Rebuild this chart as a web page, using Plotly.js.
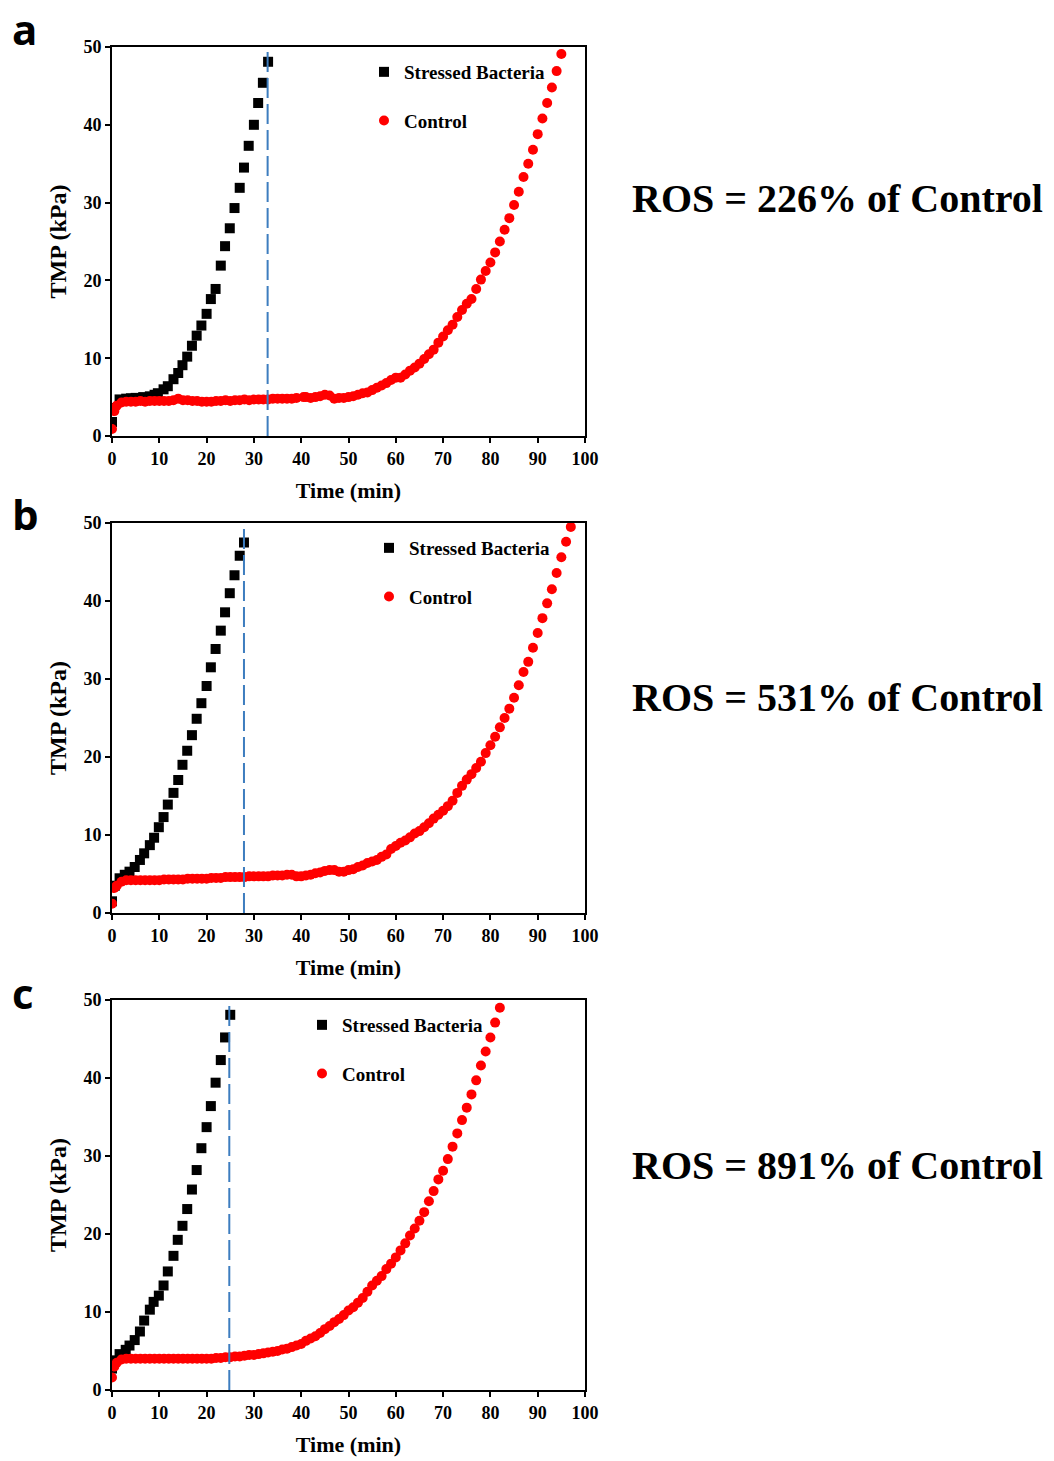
<!DOCTYPE html>
<html>
<head>
<meta charset="utf-8">
<script src="https://cdn.plot.ly/plotly-3.0.1.min.js"></script>
<style>html,body{margin:0;padding:0;background:#fff;}#chart{width:1054px;height:1461px;}</style>
</head>
<body>
<div id="chart"></div>
<script>
// ---------- DATA ----------
const panelLetters = ["a", "b", "c"];
const rosLabels = ["ROS = 226% of Control", "ROS = 531% of Control", "ROS = 891% of Control"];
const seriesNames = ["Stressed Bacteria", "Control"];
const xTicks = [0, 10, 20, 30, 40, 50, 60, 70, 80, 90, 100];
const yTicks = [0, 10, 20, 30, 40, 50];
const dashedLineX = [32.9, 27.9, 24.8];

// Panel a
const aStressedX = [0, 0.4, 1.6, 3, 4, 5, 6.6, 8, 9, 9.7, 10.9, 11.8, 13, 14, 14.9, 15.9, 16.9, 17.9, 18.9, 20, 20.9, 21.9, 23, 23.9, 24.9, 25.9, 27, 27.9, 28.9, 30, 30.9, 31.9, 33];
const aStressedY = [1.8, 3.6, 4.7, 4.8, 4.85, 4.9, 5.0, 5.1, 5.3, 5.5, 6.0, 6.4, 7.3, 8.1, 9.1, 10.2, 11.6, 12.9, 14.2, 15.7, 17.6, 18.9, 21.9, 24.4, 26.7, 29.3, 31.9, 34.5, 37.3, 40.0, 42.8, 45.4, 48.1];
const aControlX = [0, 0.5, 1, 2, 3, 4, 5, 6, 7, 8, 9, 10, 11, 12, 13, 14, 15, 16, 17, 18, 19, 20, 21, 22, 23, 24, 25, 26, 27, 28, 29, 30, 31, 32, 33, 34, 35, 36, 37, 38, 39, 40.5, 41, 42, 43, 44, 45, 46, 47, 48, 49, 50, 51, 52, 53, 54, 55, 56, 57, 58, 59, 60, 61, 62, 63, 64, 65, 66, 67, 68, 69, 70, 71, 72, 73, 74, 75, 76, 77, 78, 79, 80, 81, 82, 83, 84, 85, 86, 87, 88, 89, 90, 91, 92, 93, 94, 95];
const aControlY = [0.9, 3.2, 3.9, 4.3, 4.4, 4.4, 4.4, 4.5, 4.4, 4.5, 4.5, 4.5, 4.5, 4.5, 4.6, 4.8, 4.6, 4.6, 4.5, 4.5, 4.4, 4.4, 4.4, 4.5, 4.5, 4.6, 4.5, 4.6, 4.6, 4.7, 4.6, 4.7, 4.7, 4.7, 4.7, 4.8, 4.8, 4.8, 4.8, 4.8, 4.9, 5.0, 5.0, 4.9, 5.0, 5.1, 5.3, 5.2, 4.8, 4.9, 4.9, 5.0, 5.1, 5.3, 5.5, 5.6, 5.9, 6.2, 6.5, 6.8, 7.2, 7.5, 7.5, 7.9, 8.4, 8.8, 9.3, 9.9, 10.5, 11.1, 12.0, 12.8, 13.6, 14.3, 15.3, 16.2, 17.0, 17.6, 18.9, 20.1, 21.2, 22.3, 23.6, 25.0, 26.5, 28.0, 29.7, 31.4, 33.3, 35.0, 36.8, 38.8, 40.8, 42.8, 44.8, 46.9, 49.1];

// Panel b
const bStressedX = [0, 0.6, 1.6, 2.7, 3.7, 4.8, 5.9, 6.8, 8, 8.9, 9.9, 10.9, 11.8, 13, 14, 14.9, 15.9, 16.9, 17.9, 18.9, 20, 20.9, 21.9, 23, 23.9, 24.9, 25.9, 27, 27.9];
const bStressedY = [1.5, 3.5, 4.45, 4.9, 5.3, 5.9, 6.8, 7.65, 8.7, 9.65, 11.0, 12.3, 13.9, 15.4, 17.05, 19.0, 20.8, 22.8, 24.9, 26.9, 29.1, 31.5, 33.85, 36.2, 38.55, 41.0, 43.3, 45.8, 47.5];
const bControlX = [0, 0.5, 1, 2, 3, 4, 5, 6, 7, 8, 9, 10, 11, 12, 13, 14, 15, 16, 17, 18, 19, 20, 21, 22, 23, 24, 25, 26, 27, 28, 29, 30, 31, 32, 33, 34, 35, 36, 37, 38, 39, 40, 41, 42, 43, 44, 45, 46, 47, 48, 49, 50, 51, 52, 53, 54, 55, 56, 57, 58, 59, 60, 61, 62, 63, 64, 65, 66, 67, 68, 69, 70, 71, 72, 73, 74, 75, 76, 77, 78, 79, 80, 81, 82, 83, 84, 85, 86, 87, 88, 89, 90, 91, 92, 93, 94, 95, 96, 97];
const bControlY = [1.2, 3.2, 3.5, 4.0, 4.2, 4.2, 4.2, 4.2, 4.2, 4.2, 4.2, 4.2, 4.3, 4.3, 4.3, 4.3, 4.3, 4.4, 4.4, 4.4, 4.4, 4.4, 4.5, 4.5, 4.5, 4.6, 4.6, 4.6, 4.6, 4.6, 4.7, 4.7, 4.7, 4.7, 4.7, 4.8, 4.8, 4.8, 4.9, 4.9, 4.7, 4.7, 4.8, 4.9, 5.1, 5.2, 5.4, 5.5, 5.5, 5.3, 5.3, 5.5, 5.6, 5.9, 6.1, 6.4, 6.6, 6.8, 7.2, 7.5, 8.2, 8.6, 9.0, 9.3, 9.7, 10.2, 10.5, 11.0, 11.5, 12.1, 12.6, 13.1, 13.7, 14.4, 15.4, 16.3, 17.1, 17.8, 18.6, 19.4, 20.5, 21.5, 22.6, 23.8, 25.0, 26.2, 27.6, 29.2, 30.9, 32.2, 34.0, 35.9, 37.8, 39.7, 41.5, 43.6, 45.6, 47.6, 49.5];

// Panel c
const cStressedX = [0, 0.4, 1.6, 2.9, 3.7, 4.8, 5.9, 6.8, 8, 8.8, 9.9, 10.9, 11.8, 13, 13.9, 14.9, 15.9, 16.9, 17.9, 18.9, 20, 20.9, 21.9, 23, 23.9, 25];
const cStressedY = [2.75, 3.8, 4.6, 5.15, 5.7, 6.4, 7.5, 8.9, 10.3, 11.3, 12.1, 13.4, 15.2, 17.2, 19.25, 21.05, 23.2, 25.7, 28.2, 31.0, 33.7, 36.4, 39.4, 42.3, 45.2, 48.1];
const cControlX = [0, 0.5, 1, 2, 3, 4, 5, 6, 7, 8, 9, 10, 11, 12, 13, 14, 15, 16, 17, 18, 19, 20, 21, 22, 23, 24, 25, 26, 27, 28, 29, 30, 31, 32, 33, 34, 35, 36, 37, 38, 39, 40, 41, 42, 43, 44, 45, 46, 47, 48, 49, 50, 51, 52, 53, 54, 55, 56, 57, 58, 59, 60, 61, 62, 63, 64, 65, 66, 67, 68, 69, 70, 71, 72, 73, 74, 75, 76, 77, 78, 79, 80, 81, 82];
const cControlY = [1.6, 3.0, 3.5, 3.9, 4.0, 4.0, 4.0, 4.0, 4.0, 4.0, 4.0, 4.0, 4.0, 4.0, 4.0, 4.0, 4.0, 4.0, 4.0, 4.0, 4.0, 4.0, 4.0, 4.1, 4.1, 4.2, 4.2, 4.3, 4.3, 4.4, 4.5, 4.5, 4.6, 4.7, 4.8, 4.9, 5.0, 5.2, 5.3, 5.5, 5.7, 5.9, 6.3, 6.6, 6.9, 7.3, 7.8, 8.2, 8.7, 9.1, 9.6, 10.2, 10.6, 11.2, 11.8, 12.6, 13.4, 14.0, 14.6, 15.5, 16.2, 17.0, 17.9, 18.8, 19.8, 20.7, 21.7, 22.8, 24.2, 25.5, 27.0, 28.1, 29.6, 31.2, 32.9, 34.6, 36.2, 37.9, 39.7, 41.6, 43.4, 45.2, 47.1, 49.0];

// ---------- BUILD ----------
const W = 1054, H = 1461;
const serif = "Liberation Serif, Times New Roman, serif";
const panels = [
  {sx: aStressedX, sy: aStressedY, cx: aControlX, cy: aControlY, top: 47, bot: 436, legX: 364, legY: 53, letterY: 29, rosY: 198},
  {sx: bStressedX, sy: bStressedY, cx: bControlX, cy: bControlY, top: 523, bot: 913, legX: 369, legY: 529, letterY: 514, rosY: 698},
  {sx: cStressedX, sy: cStressedY, cx: cControlX, cy: cControlY, top: 1000, bot: 1390, legX: 302, legY: 1006, letterY: 992, rosY: 1165}
];
const plotLeft = 112, plotRight = 585;

const traces = [];
const layout = {
  width: W, height: H,
  margin: {l: 0, r: 0, t: 0, b: 0},
  paper_bgcolor: "#ffffff", plot_bgcolor: "#ffffff",
  showlegend: true,
  annotations: [], shapes: []
};

panels.forEach((p, i) => {
  const sfx = i === 0 ? "" : String(i + 1);
  const legName = "legend" + sfx;
  traces.push({
    type: "scatter", mode: "markers", name: seriesNames[0],
    x: p.sx, y: p.sy, xaxis: "x" + sfx, yaxis: "y" + sfx,
    legend: legName, legendgroup: "s" + i,
    marker: {symbol: "square", size: 10, color: "#000000"},
    hoverinfo: "x+y"
  });
  traces.push({
    type: "scatter", mode: "markers", name: seriesNames[1],
    x: p.cx, y: p.cy, xaxis: "x" + sfx, yaxis: "y" + sfx,
    legend: legName, legendgroup: "c" + i,
    marker: {symbol: "circle", size: 10, color: "#ff0000"},
    hoverinfo: "x+y"
  });
  const axFont = {family: serif, size: 18, color: "#000", weight: "bold"};
  layout["xaxis" + sfx] = {
    domain: [plotLeft / W, plotRight / W], anchor: "y" + sfx,
    range: [0, 100], tickmode: "array", tickvals: xTicks,
    showgrid: false, zeroline: false, showline: true, mirror: true,
    linecolor: "#000", linewidth: 2, ticks: "outside", ticklen: 5, tickwidth: 2, tickcolor: "#000",
    tickfont: axFont,
    title: {text: "Time (min)", font: {family: serif, size: 22, color: "#000", weight: "bold"}, standoff: 15}
  };
  layout["yaxis" + sfx] = {
    domain: [1 - p.bot / H, 1 - p.top / H], anchor: "x" + sfx,
    range: [0, 50], tickmode: "array", tickvals: yTicks,
    showgrid: false, zeroline: false, showline: true, mirror: true,
    linecolor: "#000", linewidth: 2, ticks: "outside", ticklen: 5, tickwidth: 2, tickcolor: "#000",
    tickfont: axFont,
    title: {text: "TMP (kPa)", font: {family: serif, size: 24, color: "#000", weight: "bold"}, standoff: 10}
  };
  layout[legName] = {
    x: p.legX / W, y: 1 - p.legY / H, xanchor: "left", yanchor: "top",
    bgcolor: "rgba(0,0,0,0)", borderwidth: 0,
    traceorder: "grouped", tracegroupgap: 21,
    font: {family: serif, size: 19, color: "#000", weight: "bold"}
  };
  layout.shapes.push({
    type: "line", xref: "x" + sfx, yref: "y" + sfx,
    x0: dashedLineX[i], x1: dashedLineX[i], y0: 0, y1: 49.5,
    line: {color: "#3d7dbf", width: 2, dash: "20px,6px"}
  });
  layout.annotations.push({
    xref: "paper", yref: "paper", x: 10 / W, y: 1 - p.letterY / H,
    xanchor: "left", yanchor: "middle", showarrow: false,
    text: "<b>" + panelLetters[i] + "</b>",
    font: {family: "Open Sans, Liberation Sans, sans-serif", size: 42, color: "#000"}
  });
  layout.annotations.push({
    xref: "paper", yref: "paper", x: 630 / W, y: 1 - p.rosY / H,
    xanchor: "left", yanchor: "middle", showarrow: false,
    text: "<b>" + rosLabels[i] + "</b>",
    font: {family: serif, size: 40, color: "#000"}
  });
});

Plotly.newPlot("chart", traces, layout, {displayModeBar: false, staticPlot: true});
</script>
</body>
</html>
